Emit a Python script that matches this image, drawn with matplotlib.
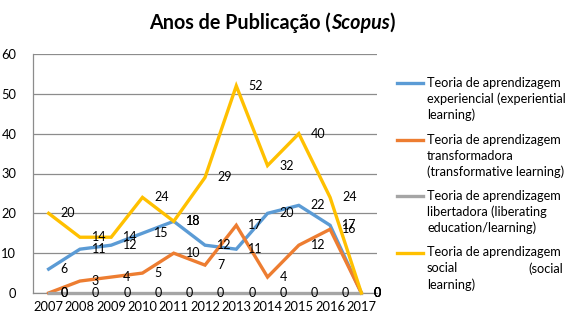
import matplotlib
matplotlib.use("Agg")
import matplotlib.pyplot as plt

years = ["2007", "2008", "2009", "2010", "2011", "2012", "2013", "2014", "2015", "2016", "2017"]
experiencial = [6, 11, 12, 15, 18, 12, 11, 20, 22, 17, 0]
transformadora = [0, 3, 4, 5, 10, 7, 17, 4, 12, 16, 0]
libertadora = [0, 0, 0, 0, 0, 0, 0, 0, 0, 0, 0]
social = [20, 14, 14, 24, 18, 29, 52, 32, 40, 24, 0]
yticks = [0, 10, 20, 30, 40, 50, 60]

series = [experiencial, transformadora, libertadora, social]
colors = ["#5B9BD5", "#ED7D31", "#A5A5A5", "#FFC000"]
legend_lines = [
    ["Teoria de aprendizagem", "experiencial (experiential", "learning)"],
    ["Teoria de aprendizagem", "transformadora", "(transformative learning)"],
    ["Teoria de aprendizagem", "libertadora (liberating", "education/learning)"],
    ["Teoria de aprendizagem", None, "learning)"],
]

plt.rcParams['font.family'] = ['Lato', 'DejaVu Sans']

W, H = 575, 322
fig = plt.figure(figsize=(W / 100, H / 100), dpi=100)
ax = fig.add_axes([33 / W, 1 - 293 / H, (377 - 33) / W, (293 - 54) / H])

x = list(range(len(years)))
ax.set_xlim(-0.5, len(years) - 0.5)
ax.set_ylim(0, 60)
ax.set_yticks(yticks)
ax.set_xticks(x)
ax.set_xticklabels(years)
ax.tick_params(length=0, labelsize=9.3, colors="#000000", pad=6)
ax.tick_params(axis='y', pad=12)
ax.yaxis.grid(True, color="#8C8C8C", linewidth=0.9)
ax.set_axisbelow(True)
for s in ["top", "right"]:
    ax.spines[s].set_visible(False)
ax.spines["left"].set_color("#8C8C8C")
ax.spines["bottom"].set_color("#8C8C8C")
ax.spines["left"].set_linewidth(0.9)
ax.spines["bottom"].set_linewidth(0.9)

for vals, c in zip(series, colors):
    ax.plot(x, vals, color=c, linewidth=2.4, solid_joinstyle='miter', clip_on=False, zorder=3)

for vals in series:
    for xi, v in zip(x, vals):
        ax.annotate(str(v), (xi, v), xytext=(12, 0), textcoords='offset pixels',
                    ha='left', va='center', fontsize=9, color="#000000", zorder=5,
                    annotation_clip=False)

# title
TS = 14.2
ty = 1 - 23 / H
split = 331 / W
fig.text(split, ty, "Anos de Publicação (", fontsize=TS, fontweight='bold', ha='right', va='center')
scop = fig.text(split, ty, "Scopus", fontsize=TS, fontweight='bold', style='italic',
                ha='left', va='center')
fig.canvas.draw()
r = fig.canvas.get_renderer()
bb = scop.get_window_extent(r)
fig.text(bb.x1 / W, ty, ")", fontsize=TS, fontweight='bold', ha='left', va='center')

# legend
y0 = 83
for i, (lines, c) in enumerate(zip(legend_lines, colors)):
    yy = y0 + i * 56.5
    fig.add_artist(plt.Line2D([397 / W, 423 / W], [1 - yy / H, 1 - yy / H],
                              color=c, linewidth=2.4, transform=fig.transFigure))
    for j, ln in enumerate(lines):
        ly = 1 - (yy + j * 16) / H
        if ln is None:
            fig.text(427 / W, ly, "social", fontsize=9.2, ha='left', va='center')
            fig.text(563 / W, ly, "(social", fontsize=9.2, ha='right', va='center')
        else:
            fig.text(427 / W, ly, ln, fontsize=9.2, ha='left', va='center')

fig.savefig("out.png", dpi=100)
